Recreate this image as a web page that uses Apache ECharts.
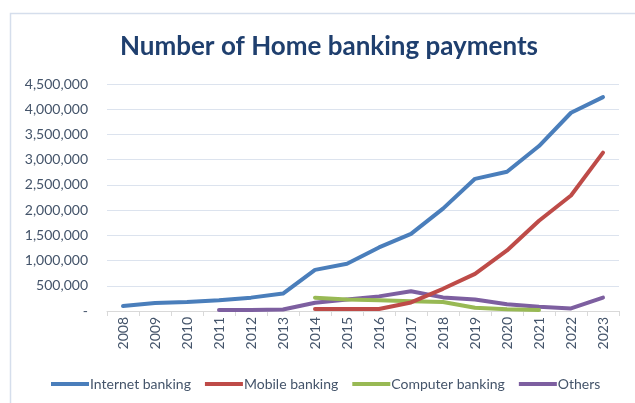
<!DOCTYPE html>
<html>
<head>
<meta charset="utf-8">
<script src="https://cdn.jsdelivr.net/npm/echarts@6/dist/echarts.min.js"></script>
<style>
  html, body { margin: 0; padding: 0; background: #ffffff; }
  #chart { width: 635px; height: 403px; }
</style>
</head>
<body>
<div id="chart"></div>
<script>
// Years on the category axis
const years = ['2008','2009','2010','2011','2012','2013','2014','2015',
               '2016','2017','2018','2019','2020','2021','2022','2023'];

// Payments per channel (null where the channel had no data)
const internetBanking = [100000, 160000, 180000, 215000, 265000, 345000, 815000, 935000,
                         1260000, 1530000, 2030000, 2620000, 2760000, 3270000, 3930000, 4240000];
const mobileBanking   = [null, null, null, null, null, null, 40000, 40000,
                         40000, 170000, 440000, 735000, 1200000, 1790000, 2290000, 3140000];
const computerBanking = [null, null, null, null, null, null, 265000, 230000,
                         215000, 195000, 180000, 65000, 33000, 20000, null, null];
const others          = [null, null, null, 20000, 20000, 30000, 165000, 230000,
                         290000, 390000, 270000, 230000, 135000, 85000, 50000, 265000];

// Value axis ticks
const yMax = 4500000;
const yStep = 500000;

const seriesNames = ['Internet banking', 'Mobile banking', 'Computer banking', 'Others'];
const seriesColors = ['#4A7EBB', '#BE4B48', '#98B954', '#7D5FA0'];
const seriesData = [internetBanking, mobileBanking, computerBanking, others];

const axisTextColor = '#44546A';
const fontFamily = 'Lato, "Open Sans", sans-serif';

const chart = echarts.init(document.getElementById('chart'), null, { renderer: 'canvas' });

chart.setOption({
  backgroundColor: '#ffffff',
  animation: false,
  textStyle: { fontFamily: fontFamily },
  graphic: [{
    type: 'rect',
    shape: { x: 10.5, y: 13.5, width: 640, height: 400 },
    style: { fill: 'none', stroke: '#D5DEEC', lineWidth: 1.5 },
    silent: true
  }],
  title: {
    text: 'Number of Home banking payments',
    left: 115,
    top: 29,
    textStyle: {
      fontFamily: fontFamily,
      fontWeight: 'bold',
      fontSize: 26,
      color: '#1F3F6E'
    }
  },
  legend: {
    data: seriesNames,
    top: 372,
    left: 46,
    itemWidth: 38,
    itemHeight: 4,
    itemGap: 14,
    icon: 'rect',
    textStyle: { color: axisTextColor, fontSize: 14, fontFamily: fontFamily, padding: [0, 0, 0, -4] }
  },
  grid: { left: 107, right: 16, top: 84, bottom: 92, containLabel: false },
  xAxis: {
    type: 'category',
    data: years,
    boundaryGap: true,
    axisLine: { lineStyle: { color: '#D9D9D9' } },
    axisTick: { show: true, alignWithLabel: false, length: 5, lineStyle: { color: '#D9D9D9' } },
    axisLabel: {
      rotate: 90,
      color: axisTextColor,
      fontSize: 14,
      fontFamily: fontFamily,
      margin: 6,
      interval: 0
    }
  },
  yAxis: {
    type: 'value',
    min: 0,
    max: yMax,
    interval: yStep,
    axisLine: { show: false },
    axisTick: { show: false },
    splitLine: { lineStyle: { color: '#DCE3EE', width: 1 } },
    axisLabel: {
      color: axisTextColor,
      fontSize: 14,
      fontFamily: fontFamily,
      margin: 19,
      formatter: function (v) {
        return v === 0 ? '-' : v.toLocaleString('en-US');
      }
    }
  },
  series: seriesNames.map(function (name, i) {
    return {
      name: name,
      type: 'line',
      data: seriesData[i],
      symbol: 'none',
      smooth: false,
      connectNulls: false,
      lineStyle: { color: seriesColors[i], width: 4, cap: 'round', join: 'round' },
      itemStyle: { color: seriesColors[i] },
      z: 10 - i
    };
  })
});
</script>
</body>
</html>
